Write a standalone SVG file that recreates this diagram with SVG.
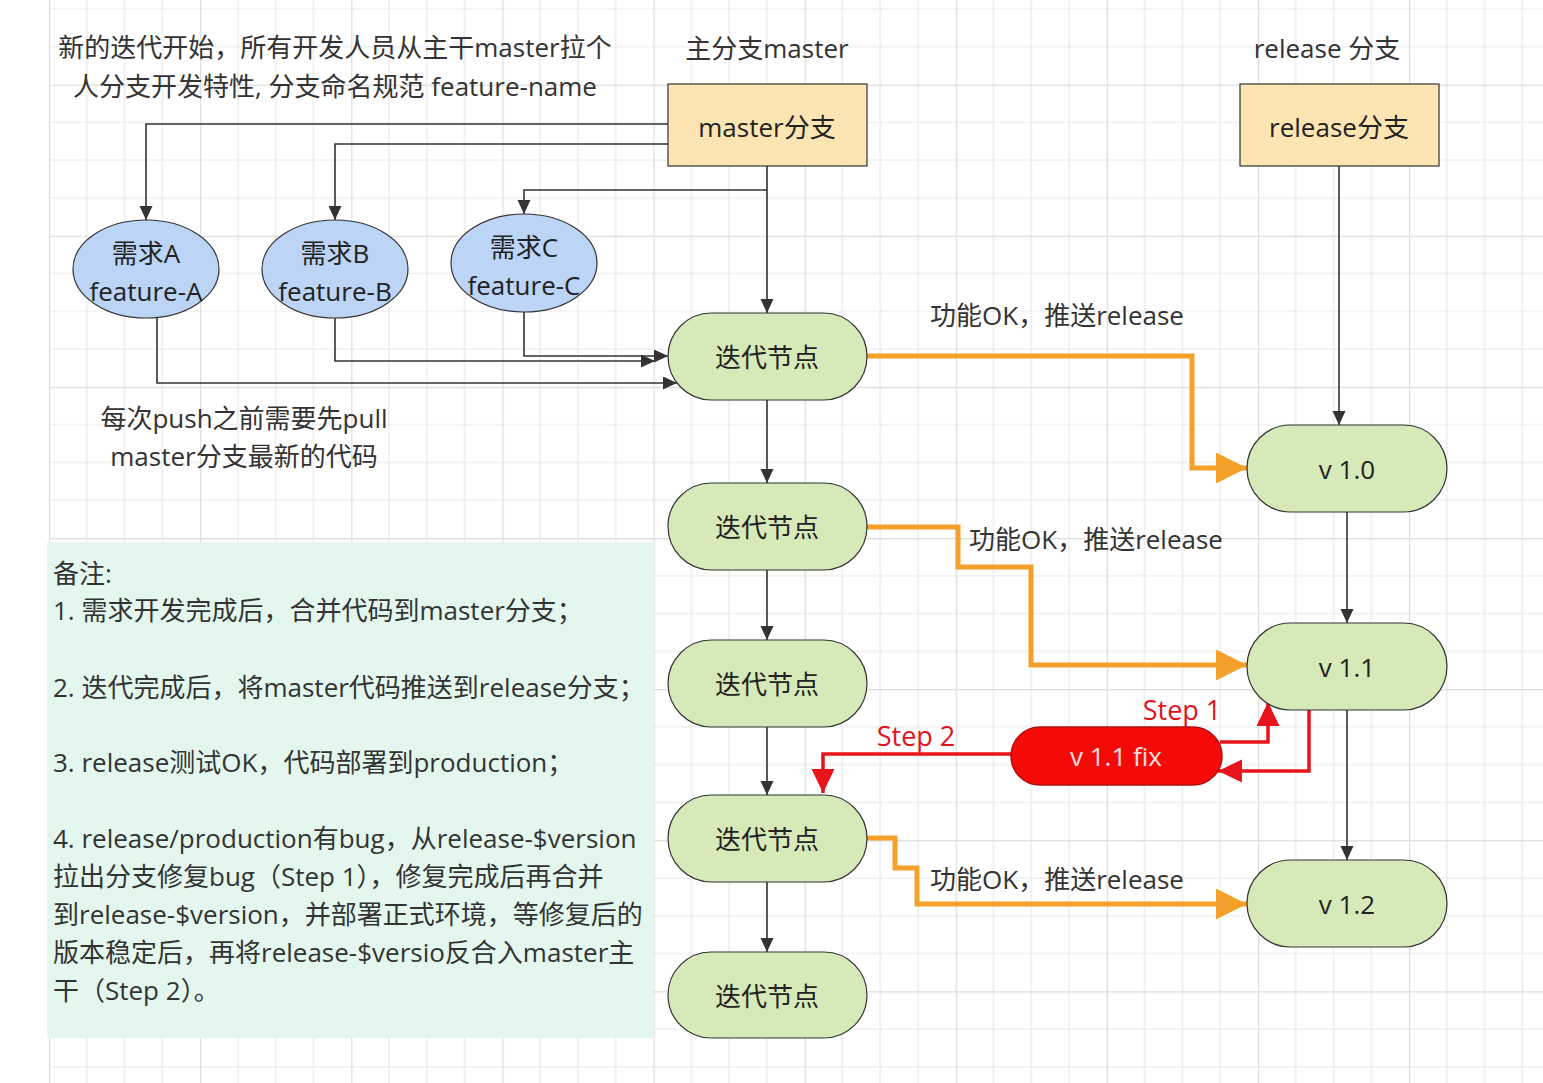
<svg xmlns="http://www.w3.org/2000/svg" width="1543" height="1083" viewBox="0 0 1543 1083">
<style>
text{font-family:"Open Sans","Noto Sans CJK SC",sans-serif;fill:#333;dominant-baseline:central}
.c{text-anchor:middle}
.n{font-size:26px;fill:#222}
.l{font-size:26px}
.note{font-size:26px;fill:#333}
.step{font-size:27px;fill:#e0141c;text-anchor:middle}
.stad{fill:#d6e9b8;stroke:#333;stroke-width:1.2}
.rect{fill:#fde5b3;stroke:#333;stroke-width:1.2}
.ell{fill:#bcd4f5;stroke:#333;stroke-width:1.2}
.bl{fill:none;stroke:#333;stroke-width:1.6;marker-end:url(#ab)}
.or{fill:none;stroke:#f5a02a;stroke-width:5;stroke-linejoin:miter;marker-end:url(#ao)}
.rd{fill:none;stroke:#e8141c;stroke-width:3.5;marker-end:url(#ar)}
</style>
<defs>
<pattern id="grid" patternUnits="userSpaceOnUse" x="49" y="84.6" width="151.12" height="151.12">
<path d="M37.78 0V151.12M75.56 0V151.12M113.34 0V151.12M0 37.78H151.12M0 75.56H151.12M0 113.34H151.12" stroke="#e8e8e8" stroke-width="1.2" fill="none"/>
<path d="M0.6 0V151.12M0 0.6H151.12" stroke="#dcdcdc" stroke-width="1.2" fill="none"/>
</pattern>
<marker id="ab" markerUnits="userSpaceOnUse" markerWidth="14" markerHeight="14" refX="14" refY="6.5" orient="auto"><path d="M0,0 L14,6.5 L0,13 z" fill="#333"/></marker>
<marker id="ao" markerUnits="userSpaceOnUse" markerWidth="32" markerHeight="32" refX="31" refY="15.5" orient="auto"><path d="M0,0 L31,15.5 L0,31 z" fill="#f5a02a"/></marker>
<marker id="ar" markerUnits="userSpaceOnUse" markerWidth="24" markerHeight="24" refX="24" refY="11.5" orient="auto"><path d="M0,0 L24,11.5 L0,23 z" fill="#e8141c"/></marker>
</defs>
<rect width="1543" height="1083" fill="#fff"/>
<rect x="49" y="0" width="1494" height="1083" fill="url(#grid)"/>

<g id="notes">
<rect x="47" y="542" width="606" height="496" fill="#e4f7ee"/>
<text class="note" x="53" y="573">备注:</text>
<text class="note" x="53" y="610">1. 需求开发完成后，合并代码到master分支；</text>
<text class="note" x="53" y="687">2. 迭代完成后，将master代码推送到release分支；</text>
<text class="note" x="53" y="762">3. release测试OK，代码部署到production；</text>
<text class="note" x="53" y="838">4. release/production有bug，从release-$version</text>
<text class="note" x="53" y="876">拉出分支修复bug（Step 1），修复完成后再合并</text>
<text class="note" x="53" y="914">到release-$version，并部署正式环境，等修复后的</text>
<text class="note" x="53" y="952">版本稳定后，再将release-$versio反合入master主</text>
<text class="note" x="53" y="990">干（Step 2）。</text>
</g>

<g id="labels">
<text class="l c" x="335" y="47">新的迭代开始，所有开发人员从主干master拉个</text>
<text class="l c" x="335" y="86">人分支开发特性, 分支命名规范 feature-name</text>
<text class="l c" x="767" y="48">主分支master</text>
<text class="l c" x="1327" y="48">release 分支</text>
<text class="l c" x="244" y="418">每次push之前需要先pull</text>
<text class="l c" x="244" y="456">master分支最新的代码</text>
<text class="l c" x="1057" y="315">功能OK，推送release</text>
<text class="l c" x="1096" y="539">功能OK，推送release</text>
<text class="l c" x="1057" y="879">功能OK，推送release</text>
<text class="step" x="1182" y="709">Step 1</text>
<text class="step" x="916" y="735">Step 2</text>
</g>

<g id="connectors">
<path class="bl" d="M668,124 H146 V220"/>
<path class="bl" d="M668,144 H335 V220"/>
<path class="bl" d="M767,166 V313"/>
<path class="bl" d="M767,190 H524 V214"/>
<path class="bl" d="M524,312 V356 H668"/>
<path class="bl" d="M335,318 V361 H655"/>
<path class="bl" d="M157,318 V383 H677"/>
<path class="bl" d="M767,400 V483"/>
<path class="bl" d="M767,570 V640"/>
<path class="bl" d="M767,727 V795"/>
<path class="bl" d="M767,882 V952"/>
<path class="bl" d="M1339,166 V425"/>
<path class="bl" d="M1347,512 V623"/>
<path class="bl" d="M1347,710 V860"/>
<path class="or" d="M867,356 H1192 V468 H1247"/>
<path class="or" d="M867,527 H958 V567 H1031 V665 H1247"/>
<path class="or" d="M867,838 H895 V868 H917 V904 H1247"/>
<path class="rd" d="M1220,742 H1268 V702"/>
<path class="rd" d="M1309,708 V771 H1218"/>
<path class="rd" d="M1011,754 H823 V793"/>
</g>

<g id="master">
<rect class="rect" x="668" y="84" width="199" height="82"/>
<text class="n c" x="767" y="127">master分支</text>
</g>
<g id="release">
<rect class="rect" x="1240" y="84" width="199" height="82"/>
<text class="n c" x="1339" y="127">release分支</text>
</g>
<g id="featureA">
<ellipse class="ell" cx="146" cy="269" rx="73" ry="49"/>
<text class="n c" x="146" y="253">需求A</text>
<text class="n c" x="146" y="291">feature-A</text>
</g>
<g id="featureB">
<ellipse class="ell" cx="335" cy="269" rx="73" ry="49"/>
<text class="n c" x="335" y="253">需求B</text>
<text class="n c" x="335" y="291">feature-B</text>
</g>
<g id="featureC">
<ellipse class="ell" cx="524" cy="263" rx="73" ry="49"/>
<text class="n c" x="524" y="247">需求C</text>
<text class="n c" x="524" y="285">feature-C</text>
</g>
<g id="iter1">
<rect class="stad" x="668" y="313" width="199" height="87" rx="43.5"/>
<text class="n c" x="767" y="357">迭代节点</text>
</g>
<g id="iter2">
<rect class="stad" x="668" y="483" width="199" height="87" rx="43.5"/>
<text class="n c" x="767" y="527">迭代节点</text>
</g>
<g id="iter3">
<rect class="stad" x="668" y="640" width="199" height="87" rx="43.5"/>
<text class="n c" x="767" y="684">迭代节点</text>
</g>
<g id="iter4">
<rect class="stad" x="668" y="795" width="199" height="87" rx="43.5"/>
<text class="n c" x="767" y="839">迭代节点</text>
</g>
<g id="iter5">
<rect class="stad" x="668" y="952" width="199" height="86" rx="43"/>
<text class="n c" x="767" y="996">迭代节点</text>
</g>
<g id="v10">
<rect class="stad" x="1247" y="425" width="200" height="87" rx="43.5"/>
<text class="n c" x="1347" y="469">v 1.0</text>
</g>
<g id="v11">
<rect class="stad" x="1247" y="623" width="200" height="87" rx="43.5"/>
<text class="n c" x="1347" y="667">v 1.1</text>
</g>
<g id="v12">
<rect class="stad" x="1247" y="860" width="200" height="87" rx="43.5"/>
<text class="n c" x="1347" y="904">v 1.2</text>
</g>
<g id="fix">
<rect x="1011" y="727" width="211" height="58" rx="29" fill="#f50a0a" stroke="#b01010" stroke-width="1.5"/>
<text class="n c" x="1116" y="756" style="fill:#fbe0e0">v 1.1 fix</text>
</g>
</svg>
